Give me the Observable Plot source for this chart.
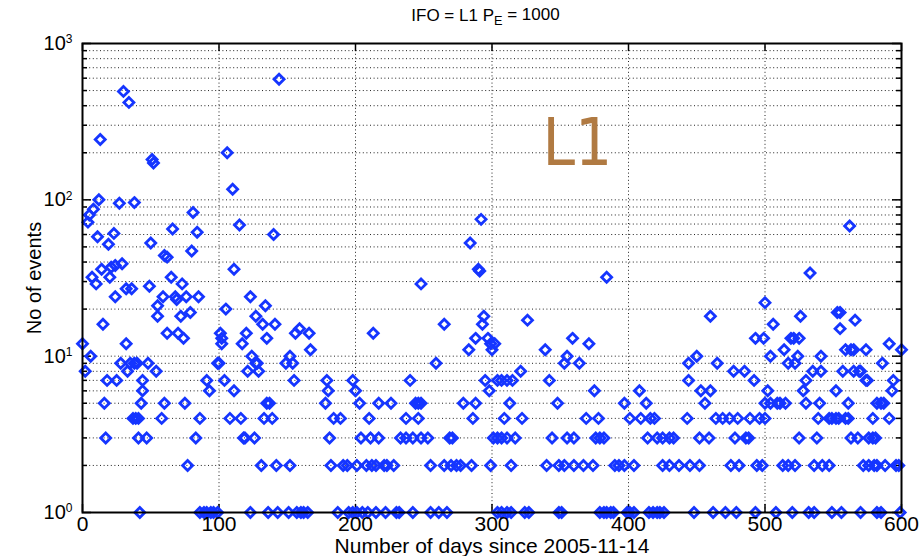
<!DOCTYPE html>
<html>
<head>
<meta charset="utf-8">
<script src="https://cdn.jsdelivr.net/npm/d3@7"></script>
<script src="https://cdn.jsdelivr.net/npm/@observablehq/plot@0.6"></script>
<style>
  body { margin: 0; background: #fff; }
  #chart { width: 919px; height: 556px; }
</style>
</head>
<body>
<div id="chart"></div>
<script>
// ---- data: days (since 2005-11-14) grouped by number of events ----
const days1 = [42, 86, 89, 91, 94, 96, 99, 123, 136, 143, 151, 157, 160, 162, 165, 187, 195, 198, 201, 205, 209, 215, 222, 230, 232, 242, 255, 261, 267, 304, 307, 311, 314, 324, 327, 349, 351, 379, 382, 384, 387, 389, 399, 401, 404, 415, 418, 421, 423, 426, 448, 462, 471, 479, 493, 508, 520, 532, 536, 549, 556, 570, 582, 585, 599];
const days2 = [77, 131, 142, 152, 182, 191, 194, 201, 208, 212, 215, 221, 223, 228, 255, 265, 270, 274, 277, 285, 299, 314, 340, 349, 353, 360, 367, 374, 390, 393, 397, 404, 425, 430, 437, 445, 452, 475, 481, 494, 498, 513, 517, 522, 536, 542, 547, 572, 576, 580, 582, 588, 596, 598];
const days3 = [17, 41, 47, 83, 118, 119, 126, 181, 204, 211, 217, 233, 237, 242, 248, 253, 269, 271, 301, 304, 307, 311, 317, 344, 355, 360, 376, 379, 382, 414, 421, 425, 430, 433, 452, 459, 478, 486, 488, 525, 538, 563, 568, 576, 579, 581];
const days4 = [37, 39, 41, 58, 86, 108, 116, 133, 139, 184, 189, 210, 237, 246, 286, 309, 322, 369, 378, 401, 409, 416, 419, 443, 464, 469, 474, 480, 489, 496, 500, 539, 547, 549, 552, 554, 559, 561, 579, 591];
const days5 = [16, 43, 60, 75, 135, 137, 178, 203, 217, 226, 244, 246, 248, 279, 288, 313, 348, 397, 413, 456, 500, 504, 509, 511, 515, 530, 540, 561, 582, 585, 587];
const days6 = [44, 93, 111, 180, 200, 298, 375, 408, 453, 460, 502, 528, 552, 593];
const days7 = [18, 25, 44, 91, 104, 155, 179, 198, 240, 295, 304, 307, 311, 315, 342, 444, 492, 530, 574, 575, 594];
const days8 = [2, 33, 54, 121, 129, 321, 477, 485, 535, 541, 557, 565, 569, 570];
const days9 = [28, 35, 38, 40, 48, 99, 100, 127, 128, 149, 154, 259, 353, 364, 444, 465, 517, 522, 586];
const days10 = [6, 124, 152, 355, 450, 504, 524, 541];
const days11 = [167, 283, 300, 339, 514, 559, 563, 565, 574, 600];
const days12 = [0, 32, 102, 117, 299, 302, 371, 591];
const days13 = [74, 102, 135, 288, 297, 359, 493, 499, 519, 521, 525];
const days14 = [62, 70, 101, 120, 156, 166, 213];
// larger counts: day and number of events
const otherDays   = [159, 555, 15, 132, 141, 265, 293, 506, 326, 566, 55, 72, 127, 294, 460, 526, 79, 553, 555, 105, 55, 134, 500, 69, 24, 59, 68, 76, 85, 123, 32, 36, 49, 10, 73, 248, 7, 20, 65, 384, 533, 291, 14, 111, 290, 21, 24, 29, 62, 60, 80, 19, 50, 284, 11, 140, 23, 84, 66, 562, 115, 4, 292, 5, 81, 8, 27, 38, 12, 110, 52, 51, 106, 13, 34, 30, 144];
const otherCounts = [15, 15, 16, 16, 16, 16, 16, 16, 17, 17, 18, 18, 18, 18, 18, 18, 19, 19, 19, 20, 21, 21, 22, 23, 24, 24, 24, 24, 24, 24, 27, 27, 28, 29, 29, 29, 32, 32, 32, 32, 34, 35, 36, 36, 36, 37, 38, 39, 43, 44, 47, 52, 53, 53, 58, 60, 61, 62, 65, 68, 69, 72, 75, 80, 83, 87, 95, 96, 100, 117, 172, 181, 200, 243, 420, 494, 590];

const xTicks = [0, 100, 200, 300, 400, 500, 600];
const yDecades = [1, 10, 100, 1000];
const titleMain = "IFO = L1 P";
const titleSub = "E";
const titleTail = " = 1000";
const xLabel = "Number of days since 2005-11-14";
const yLabel = "No of events";
const annotationText = "L1";
const annotationDay = 337;
const annotationCount = 166;

// ---- build table ----
const levels = [days1, days2, days3, days4, days5, days6, days7, days8, days9, days10, days11, days12, days13, days14];
const points = [];
levels.forEach((arr, i) => arr.forEach(d => points.push({day: d, count: i + 1})));
otherDays.forEach((d, i) => points.push({day: d, count: otherCounts[i]}));

const minorY = [];
for (const dec of [1, 10, 100]) for (let k = 2; k <= 9; k++) minorY.push(dec * k);
const gridY = minorY.concat([10, 100]);
const gridX = xTicks.slice(1, -1);

const W = 919, H = 556, mL = 82, mR = 18, mT = 43, mB = 44;
const pw = W - mL - mR, ph = H - mT - mB;
const blue = "#1535ff";
const font = "'Liberation Sans', Arial, Helvetica, sans-serif";

const chart = Plot.plot({
  width: W, height: H,
  marginLeft: mL, marginRight: mR, marginTop: mT, marginBottom: mB,
  style: {fontFamily: font, background: "#fff", color: "#000"},
  x: {domain: [0, 600]},
  y: {type: "log", domain: [1, 1000]},
  marks: [
    Plot.ruleY(gridY, {stroke: "#222", strokeWidth: 1, strokeDasharray: "1,2.6"}),
    Plot.ruleX(gridX, {stroke: "#222", strokeWidth: 1, strokeDasharray: "1,2.6"}),
    // inward ticks (MATLAB style)
    Plot.tickY(minorY, {stroke: "#000", strokeWidth: 1.5, insetRight: pw - 5}),
    Plot.tickY(minorY, {stroke: "#000", strokeWidth: 1.5, insetLeft: pw - 5}),
    Plot.tickY(yDecades, {stroke: "#000", strokeWidth: 1.5, insetRight: pw - 9}),
    Plot.tickY(yDecades, {stroke: "#000", strokeWidth: 1.5, insetLeft: pw - 9}),
    Plot.tickX(xTicks, {stroke: "#000", strokeWidth: 1.5, insetTop: ph - 8}),
    Plot.tickX(xTicks, {stroke: "#000", strokeWidth: 1.5, insetBottom: ph - 8}),
    Plot.dot(points, {x: "day", y: "count", symbol: "diamond2", r: 4.5, stroke: blue, strokeWidth: 2.8, fill: "none"}),
    Plot.text([annotationText], {x: () => annotationDay, y: () => annotationCount, text: d => d,
      fill: "#b07a42", fontSize: 65, textAnchor: "start", lineAnchor: "bottom",
      fontFamily: "'Liberation Sans Narrow', 'Arial Narrow', 'DejaVu Sans Condensed', sans-serif"}),
    Plot.frame({stroke: "#000", strokeWidth: 2}),
    Plot.axisX({ticks: xTicks, tickSize: 0, tickPadding: 4, fontSize: 21,
      label: xLabel, labelAnchor: "center", labelArrow: "none", labelOffset: 40}),
    Plot.axisY({ticks: yDecades, tickSize: 0, tickPadding: 10, fontSize: 20, tickFormat: d => String(d),
      label: yLabel, labelAnchor: "center", labelArrow: "none", labelOffset: 56})
  ]
});

document.getElementById("chart").appendChild(chart);
const svg = d3.select(chart);

// superscript exponent on y tick labels
svg.selectAll('g[aria-label="y-axis tick label"] text').each(function() {
  const t = d3.select(this);
  const v = +t.text();
  const exp = Math.round(Math.log10(v));
  t.text("10");
  t.append("tspan").attr("dy", "-0.55em").attr("font-size", "0.6em").text(String(exp));
});
// axis label sizes
svg.selectAll('g[aria-label="x-axis label"] text').attr("font-size", 21);
svg.selectAll('g[aria-label="y-axis label"] text').attr("font-size", 20);

// title with subscript
const title = svg.append("text")
  .attr("x", mL + pw / 2 - 6).attr("y", 21)
  .attr("text-anchor", "middle")
  .attr("font-family", font).attr("font-size", 17).attr("fill", "#000");
title.append("tspan").text(titleMain);
title.append("tspan").attr("dy", "0.35em").attr("font-size", "0.75em").text(titleSub);
title.append("tspan").attr("dy", "-0.35em").text(titleTail);
</script>
</body>
</html>
